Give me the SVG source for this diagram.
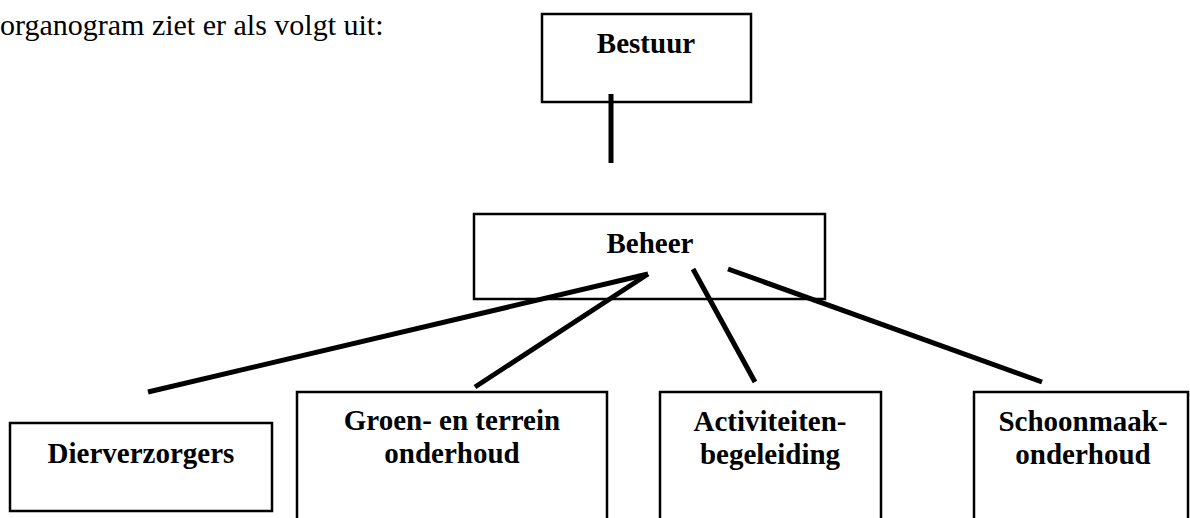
<svg xmlns="http://www.w3.org/2000/svg" width="1190" height="518" viewBox="0 0 1190 518">
<style>
.box{fill:#fff;stroke:#000;stroke-width:2.5}
.lbl{font-family:"Liberation Serif","Times New Roman",serif;font-weight:bold;font-size:29px;fill:#000;text-anchor:middle}
.intro{font-family:"Liberation Serif","Times New Roman",serif;font-size:30px;fill:#000}
.con{stroke:#000;stroke-width:5;fill:none;stroke-linecap:butt}
</style>
<rect width="1190" height="518" fill="#fff"/>
<text class="intro" x="0" y="35">organogram ziet er als volgt uit:</text>
<g id="bestuur">
<rect class="box" x="542" y="14" width="209" height="88"/>
<text class="lbl" x="646" y="53">Bestuur</text>
</g>
<g id="beheer">
<rect class="box" x="474" y="214" width="351" height="85"/>
<text class="lbl" x="650" y="253">Beheer</text>
</g>
<g id="dierverzorgers">
<rect class="box" x="10" y="423" width="262" height="88"/>
<text class="lbl" x="141" y="463">Dierverzorgers</text>
</g>
<g id="groen">
<rect class="box" x="297" y="392" width="310" height="140"/>
<text class="lbl" x="452" y="430">Groen- en terrein</text>
<text class="lbl" x="452" y="463">onderhoud</text>
</g>
<g id="activiteiten">
<rect class="box" x="660" y="392" width="221" height="140"/>
<text class="lbl" x="770" y="431">Activiteiten-</text>
<text class="lbl" x="770" y="464">begeleiding</text>
</g>
<g id="schoonmaak">
<rect class="box" x="974" y="392" width="214" height="140"/>
<text class="lbl" x="1083" y="431">Schoonmaak-</text>
<text class="lbl" x="1083" y="464">onderhoud</text>
</g>
<g id="connectors">
<line class="con" x1="611" y1="94" x2="611" y2="163"/>
<line class="con" x1="648" y1="274" x2="148" y2="392"/>
<line class="con" x1="648" y1="274" x2="475" y2="387"/>
<line class="con" x1="693" y1="269" x2="755" y2="382"/>
<line class="con" x1="728" y1="269" x2="1042" y2="382"/>
</g>
</svg>
